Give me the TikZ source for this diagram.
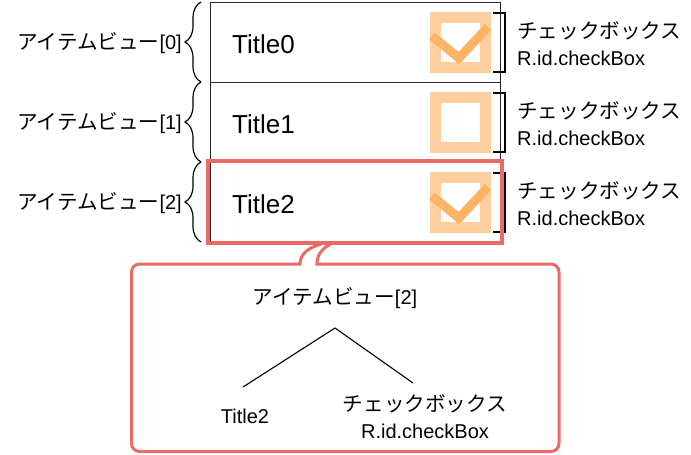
\documentclass[tikz,border=0pt]{standalone}
\usepackage{fontspec}
\setmainfont{Liberation Sans}
\newfontfamily\jp[Scale=1.03]{Noto Sans CJK JP}
\usepackage{tikz}
\usetikzlibrary{positioning, decorations.pathreplacing}

\definecolor{hlred}{HTML}{EA6B66}
\definecolor{boxorange}{HTML}{FFCE9F}
\definecolor{tickorange}{HTML}{FFB366}

\tikzset{
  rowbox/.style={draw=black!85, line width=0.8pt},
  lbl/.style={font=\fontsize{20}{27}\selectfont, inner sep=0pt},
  ttl/.style={font=\fontsize{26}{30}\selectfont, inner sep=0pt, anchor=west},
  boxmark/.style={draw=boxorange, line width=10.5pt},
  tickmark/.style={draw=tickorange, line width=9pt},
  hilite/.style={draw=hlred, line width=3.5pt},
  bubble/.style={draw=hlred, line width=3pt},
  bkt/.style={line width=1.3pt},
  curly/.style={decorate, decoration={brace, amplitude=16pt}, line width=1.2pt}
}

\begin{document}
\begin{tikzpicture}[x=1pt, y=-1pt]
  \useasboundingbox (0,0) rectangle (691,455);

  % item rows
  \foreach \i in {0,1,2} {
    \pgfmathsetmacro{\top}{2+80*\i}
    \draw[rowbox] (210,\top) rectangle (500,\top+80);
    \node (title\i) [ttl] at (232,\top+42) {Title\i};
    \draw[boxmark] (435.5,\top+15.5) rectangle (485.5,\top+65.5);
    \draw[bkt] (493,\top+11) -- (505,\top+11) -- (505,\top+70) -- (493,\top+70);
    \node (cb\i) [lbl, anchor=west, align=left] at (517,\top+42)
      {{\jp チェックボックス}\\R.id.checkBox};
    \draw[curly] (201,\top+80) -- (201,\top);
    \node (item\i) [lbl, anchor=east] at (182,\top+41) {{\jp アイテムビュー}[\i]};
  }
  \draw[tickmark] (432,36) -- (459,58) -- (488,27);
  \draw[tickmark] (432,196) -- (459,218) -- (488,187);

  % callout
  \draw[bubble] (321,244) .. controls (308,248) and (300,254) .. (300,264)
    [rounded corners=8] -- (131.5,264) -- (131.5,451.5) -- (559,451.5) -- (559,264)
    [sharp corners] -- (317,264) .. controls (317,255) and (322,248) .. (331,244);
  \draw[hilite] (208,161) rectangle (502,243);

  % tree
  \node (root) [lbl] at (335,298) {{\jp アイテムビュー}[2]};
  \node (leaf1) [lbl] at (245,416) {Title2};
  \node (leaf2) [lbl, align=center] at (425,417) {{\jp チェックボックス}\\R.id.checkBox};
  \coordinate (apex) at (335,328);
  \coordinate (lend) at (243,387);
  \coordinate (rend) at (413,383);
  \draw[line width=1.1pt] (lend) -- (apex) -- (rend);
\end{tikzpicture}
\end{document}
